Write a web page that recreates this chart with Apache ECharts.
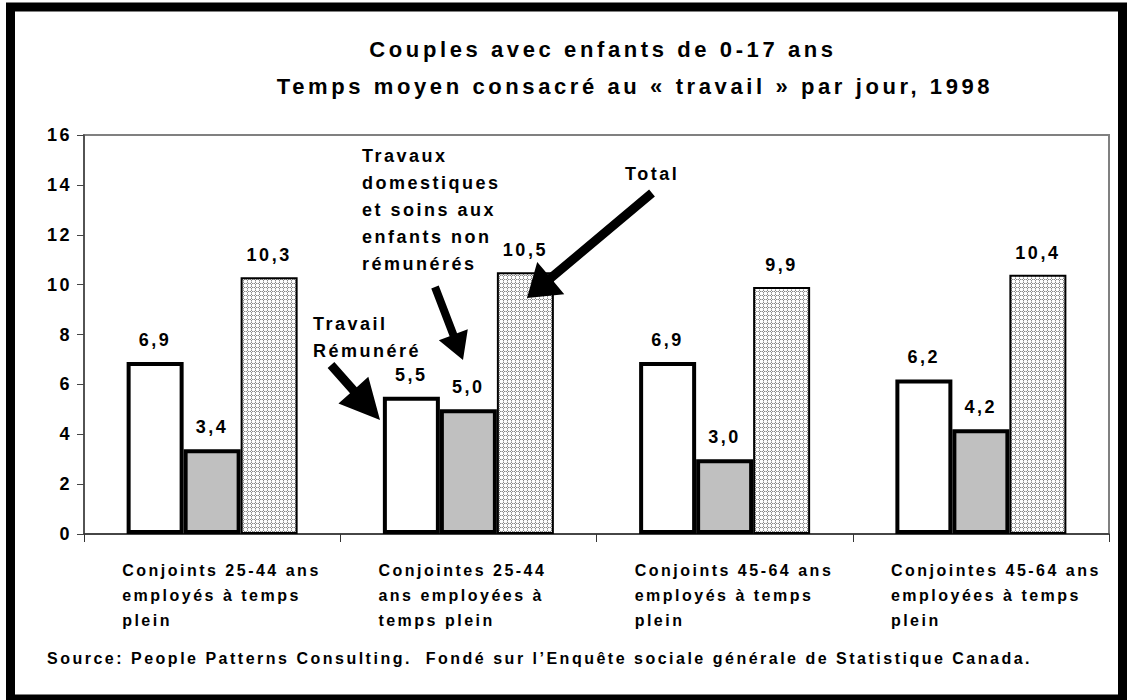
<!DOCTYPE html>
<html lang="fr">
<head>
    <meta charset="UTF-8">
    <title>Temps moyen consacré au travail</title>
    <script src="https://cdn.jsdelivr.net/npm/echarts@6/dist/echarts.min.js"></script>
    <style>
        html,body{margin:0;height:100%;background:#fff;}
        #main{width:1127px;height:700px;}
        /* espacement des lettres comme dans l'original */
        #main text{letter-spacing:2.5px;}
        #main text[style*="22px"]{letter-spacing:3.6px;}
    </style>
</head>
<body>
<div id="main"></div>
<script>
    // données
    var categories = [
        'Conjoints 25-44 ans\nemployés à temps\nplein',
        'Conjointes 25-44\nans employées à\ntemps plein',
        'Conjoints 45-64 ans\nemployés à temps\nplein',
        'Conjointes 45-64 ans\nemployées à temps\nplein'
    ];
    var travailRemunere = [6.9, 5.5, 6.9, 6.2];
    var travauxDomestiques = [3.4, 5.0, 3.0, 4.2];
    var total = [10.3, 10.5, 9.9, 10.4];
    var yMin = 0, yMax = 16, yStep = 2;

    var FONT = '"Liberation Sans", Arial, sans-serif';

    // motif pointillé pour la barre "Total"
    var tile = document.createElement('canvas');
    tile.width = 4; tile.height = 4;
    var tctx = tile.getContext('2d');
    tctx.fillStyle = '#fff';
    tctx.fillRect(0, 0, 4, 4);
    tctx.fillStyle = '#8a8a8a';
    tctx.fillRect(0, 3, 1, 1);
    tctx.fillRect(2, 3, 1, 1);
    tctx.fillRect(3, 0, 1, 1);
    tctx.fillRect(3, 2, 1, 1);
    tctx.fillStyle = '#c8c8c8';
    tctx.fillRect(1, 3, 1, 1);
    tctx.fillRect(3, 1, 1, 1);

    function fmt(p) {
        return p.value.toFixed(1).replace('.', ',');
    }

    var valueLabel = {
        show: true,
        position: 'top',
        distance: 13,
        formatter: fmt,
        color: '#000',
        fontSize: 18,
        fontWeight: 'bold',
        fontFamily: FONT
    };

    // flèche pleine (annotation)
    function arrow(x1, y1, x2, y2, shaft, headLen, headW) {
        var dx = x2 - x1, dy = y2 - y1;
        var L = Math.sqrt(dx * dx + dy * dy);
        var ux = dx / L, uy = dy / L, px = -uy, py = ux;
        var bx = x2 - ux * headLen, by = y2 - uy * headLen;
        var s = shaft / 2, h = headW / 2;
        return {
            type: 'polygon',
            z: 100,
            shape: {
                points: [
                    [x1 + px * s, y1 + py * s],
                    [bx + px * s, by + py * s],
                    [bx + px * h, by + py * h],
                    [x2, y2],
                    [bx - px * h, by - py * h],
                    [bx - px * s, by - py * s],
                    [x1 - px * s, y1 - py * s]
                ]
            },
            style: {fill: '#000'}
        };
    }

    function note(text, x, y) {
        return {
            type: 'text',
            z: 100,
            x: x,
            y: y,
            style: {
                text: text,
                fill: '#000',
                font: 'bold 18px ' + FONT,
                lineHeight: 27,
                textAlign: 'left',
                textVerticalAlign: 'top'
            }
        };
    }

    var titleStyle = {
        color: '#000',
        fontSize: 22,
        fontWeight: 'bold',
        fontFamily: FONT
    };

    var myChart = echarts.init(document.getElementById('main'), null, {renderer: 'svg'});

    var option = {
        backgroundColor: '#fff',
        animation: false,
        title: [{
            text: 'Couples avec enfants de 0-17 ans',
            left: 598,
            top: 33,
            textAlign: 'center',
            textStyle: titleStyle
        }, {
            text: 'Temps moyen consacré au « travail » par jour, 1998',
            left: 630,
            top: 70,
            textAlign: 'center',
            textStyle: titleStyle
        }, {
            text: 'Source: People Patterns Consulting.  Fondé sur l’Enquête sociale générale de Statistique Canada.',
            left: 42,
            top: 645,
            textStyle: {
                color: '#000',
                fontSize: 16,
                fontWeight: 'bold',
                fontFamily: FONT
            }
        }],
        grid: {
            left: 84,
            right: 18,
            top: 135,
            bottom: 166,
            show: true,
            borderColor: '#808080',
            borderWidth: 2,
            outerBoundsMode: 'none'
        },
        xAxis: {
            type: 'category',
            data: categories,
            axisLine: {lineStyle: {color: '#333', width: 1.5}},
            axisTick: {show: true, length: 8, interval: 0, lineStyle: {color: '#333'}},
            axisLabel: {
                interval: 0,
                margin: 24,
                formatter: function (v) {
                    return v.split('\n').map(function (s) {
                        return '{c|' + s + '}';
                    }).join('\n');
                },
                rich: {
                    c: {
                        width: 180,
                        align: 'left',
                        color: '#000',
                        fontSize: 16,
                        fontWeight: 'bold',
                        fontFamily: FONT,
                        lineHeight: 25
                    }
                }
            }
        },
        yAxis: {
            type: 'value',
            min: yMin,
            max: yMax,
            interval: yStep,
            axisLine: {show: true, lineStyle: {color: '#444', width: 1.5}},
            axisTick: {show: true, length: 7, lineStyle: {color: '#444'}},
            splitLine: {show: false},
            axisLabel: {
                margin: 12,
                color: '#000',
                fontSize: 18,
                fontWeight: 'bold',
                fontFamily: FONT
            }
        },
        series: [{
            name: 'Travail rémunéré',
            type: 'bar',
            data: travailRemunere,
            barWidth: 57,
            barGap: '0%',
            itemStyle: {color: '#fff', borderColor: '#000', borderWidth: 4},
            label: valueLabel
        }, {
            name: 'Travaux domestiques et soins aux enfants non rémunérés',
            type: 'bar',
            data: travauxDomestiques,
            barWidth: 57,
            barGap: '0%',
            itemStyle: {color: '#c0c0c0', borderColor: '#000', borderWidth: 4},
            label: valueLabel
        }, {
            name: 'Total',
            type: 'bar',
            data: total,
            barWidth: 57,
            barGap: '0%',
            itemStyle: {
                color: {image: tile, repeat: 'repeat', imageWidth: 4, imageHeight: 4},
                borderColor: '#000',
                borderWidth: 2
            },
            label: valueLabel
        }],
        graphic: [
            // cadre extérieur
            {
                type: 'rect',
                z: 100,
                shape: {x: 10.5, y: 7, width: 1112, height: 692},
                style: {fill: null, stroke: '#000', lineWidth: 9}
            },
            note('Travaux\ndomestiques\net soins aux\nenfants non\nrémunérés', 362, 142),
            note('Total', 625, 160),
            note('Travail\nRémunéré', 313, 310),
            arrow(652, 193, 527, 298, 9, 31, 42),
            arrow(435, 287, 463, 360, 8, 27, 31),
            arrow(331, 365, 380, 420, 9, 40, 40)
        ]
    };

    myChart.setOption(option);
</script>
</body>
</html>
